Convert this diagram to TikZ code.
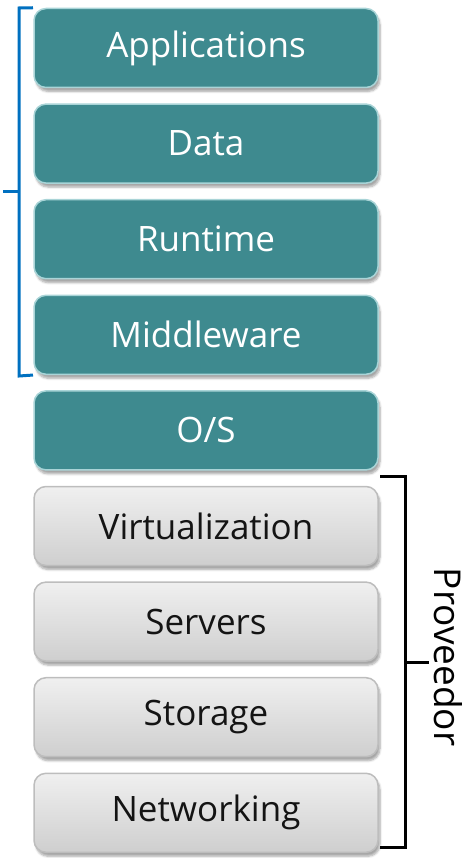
\documentclass[tikz,border=0pt]{standalone}
\usepackage{fontspec}
\setmainfont{Open Sans}
\usetikzlibrary{shadows.blur}
\definecolor{tealbox}{HTML}{3E8A8F}
\definecolor{tealedge}{HTML}{A9D4D7}
\definecolor{greyedge}{HTML}{BDBDBD}
\definecolor{bracketblue}{HTML}{0070C0}
\tikzset{
  layer/.style={rounded corners=12pt, minimum width=344pt, minimum height=79pt,
    inner sep=0pt, line width=1.5pt, font=\fontsize{35}{40}\selectfont,
    blur shadow={shadow xshift=2pt, shadow yshift=-4pt, shadow blur steps=6, shadow opacity=35}},
  tealayer/.style={layer, fill=tealbox, draw=tealedge, text=white},
  greylayer/.style={layer, top color=gray!12, bottom color=gray!38, draw=greyedge, text=black!92},
  bracketline/.style={line width=3pt}
}
\begin{document}
\begin{tikzpicture}[x=1pt,y=-1pt]
\useasboundingbox (0,0) rectangle (462,858);
\node[tealayer] (app) at (206,48) {Applications};
\node[tealayer] (data) at (206,143.6) {Data};
\node[tealayer] (run) at (206,239.2) {Runtime};
\node[tealayer] (mid) at (206,334.8) {Middleware};
\node[tealayer] (os) at (206,430.4) {O/S};
\node[greylayer] (virt) at (206,526) {Virtualization};
\node[greylayer] (serv) at (206,621.6) {Servers};
\node[greylayer] (stor) at (206,717.2) {Storage};
\node[greylayer] (net) at (206,812.8) {Networking};
% left bracket
\coordinate (lt) at (19,8);
\coordinate (lb) at (19,376);
\coordinate (lm) at (19,192);
\coordinate (ltick) at (3,192);
\draw[bracketline, draw=bracketblue] (app.north west -| 33,0) -- (lt) -- (lb) -- (mid.south west -| 33,0);
\draw[bracketline, draw=bracketblue] (lm) -- (ltick);
% right bracket
\coordinate (rt) at (405,476);
\coordinate (rb) at (405,847);
\coordinate (rm) at (405,662);
\coordinate (rtick) at (429,662);
\draw[bracketline] (380,476) -- (rt) -- (rb) -- (380,847);
\draw[bracketline] (rm) -- (rtick);
\node[rotate=-90, font=\fontsize{37}{42}\selectfont, anchor=base, inner sep=0pt] (prov) at (434,657) {Proveedor};
\end{tikzpicture}
\end{document}
